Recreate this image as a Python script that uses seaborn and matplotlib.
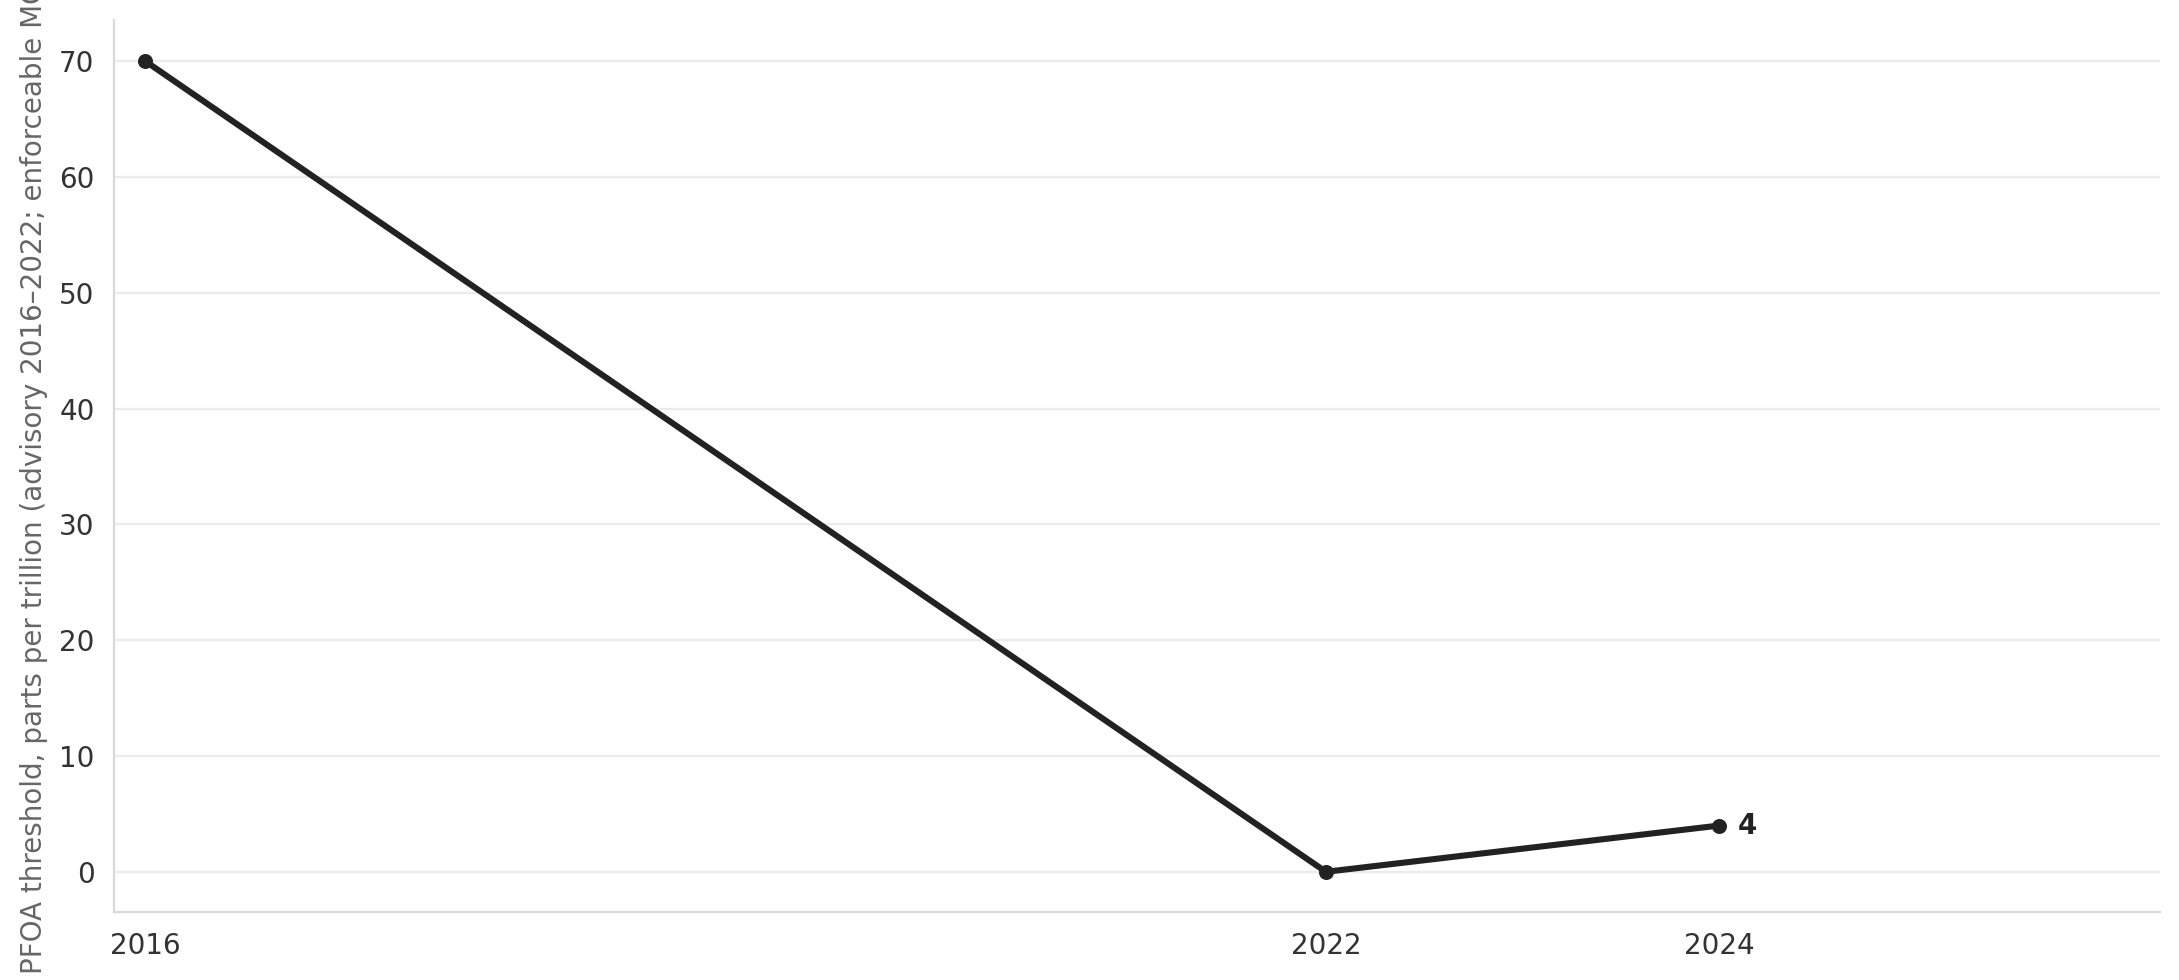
import numpy as np
import pandas as pd
import matplotlib
matplotlib.use("Agg")
import matplotlib.pyplot as plt
import seaborn as sns

years = [2016, 2022, 2024]
threshold_ppt = [70, 0.004, 4]
end_label = "4"
y_label = "PFOA threshold, parts per trillion (advisory 2016\u20132022; enforceable MCL)"

df = pd.DataFrame({"year": years, "ppt": threshold_ppt})

sns.set_style("white")
plt.rcParams["font.family"] = ["DejaVu Sans"]

fig, ax = plt.subplots(figsize=(10.895, 4.9), dpi=200)
fig.subplots_adjust(left=0.0523, right=0.9913, top=0.98, bottom=0.069)

sns.lineplot(data=df, x="year", y="ppt", ax=ax, color="#222222", linewidth=2.2,
             marker="o", markersize=5.4, markeredgewidth=0)

ax.annotate(end_label, xy=(years[-1], threshold_ppt[-1]), xytext=(6.5, 0),
            textcoords="offset points", va="center", ha="left",
            fontsize=10, fontweight="bold", color="#222222")

ax.set_xlim(2015.84, 2026.24)
ax.set_ylim(-3.5, 73.6)
ax.set_xticks(years)
ax.set_xticklabels([str(y) for y in years])
ax.set_yticks(np.arange(0, 71, 10))

ax.grid(axis="y", color="#ebebeb", linewidth=0.8)
ax.grid(axis="x", visible=False)
ax.set_axisbelow(True)

for side in ["top", "right"]:
    ax.spines[side].set_visible(False)
for side in ["left", "bottom"]:
    ax.spines[side].set_color("#d9d9d9")
    ax.spines[side].set_linewidth(0.8)

ax.tick_params(axis="both", length=3.5, width=0.8, color="#222222",
               labelsize=10, labelcolor="#333333")
ax.set_xlabel("")
ax.set_ylabel(y_label, fontsize=10, color="#666666")

fig.savefig("out.png", dpi=200)
